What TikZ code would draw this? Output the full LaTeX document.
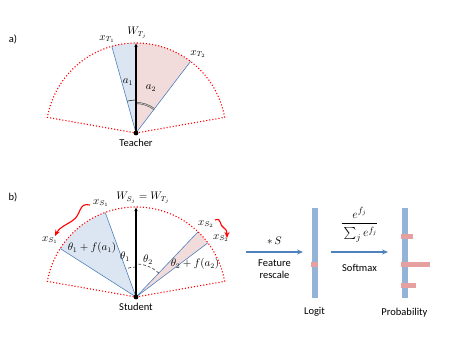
\documentclass[tikz,border=0pt]{standalone}
\usepackage{amsmath}
\usepackage{fontspec}
\setmainfont{Carlito}
\usetikzlibrary{arrows.meta,positioning}
\definecolor{lineblue}{RGB}{79,129,189}
\definecolor{fillblue}{RGB}{220,230,242}
\definecolor{fillpink}{RGB}{242,220,219}
\definecolor{barblue}{RGB}{149,179,215}
\definecolor{barred}{RGB}{230,160,160}

\begin{document}
\begin{tikzpicture}[
    x=1pt,
    y=1pt,
    >=Latex,
    sector/.style={red,dotted,line width=1.1pt},
    ray/.style={lineblue,line width=0.6pt},
    axis/.style={-{Latex[length=4pt,width=3.5pt]},line width=1.1pt},
    apex/.style={circle,fill=black,inner sep=1.7pt},
    anglemark/.style={gray!60!black,densely dashed,line width=0.7pt},
    bar/.style={fill=barblue,minimum width=6pt,minimum height=90pt,inner sep=0pt},
    spike/.style={fill=barred},
    flow/.style={-{Stealth[length=6pt,width=5pt]},lineblue,line width=1.1pt},
    wiggle/.style={-{Stealth[length=6pt,width=5pt]},red,line width=1.1pt},
    every node/.style={font=\fontsize{10.5}{12}\selectfont,text=black}
]
  \useasboundingbox (0,0) rectangle (450,338);

  % a) teacher
  \coordinate (T) at (136,205);
  \path (T) +(90:90) coordinate (Wt) +(105.6:90) coordinate (xt1) +(52.7:90) coordinate (xt2);
  \fill[fillblue] (T) -- (xt1) arc[start angle=105.6,end angle=90,radius=90] -- cycle;
  \fill[fillpink] (T) -- (Wt) arc[start angle=90,end angle=52.7,radius=90] -- cycle;
  \draw[sector] (T) -- +(10:90) arc[start angle=10,end angle=170,radius=90] -- cycle;
  \draw[ray] (T) -- (xt1);
  \draw[ray] (T) -- (xt2);
  \draw[line width=0.5pt] (T) +(90:33) arc[start angle=90,end angle=105.6,radius=33];
  \draw[draw=gray!50!black,double=gray!45,double distance=0.8pt,line width=0.5pt]
    (T) +(52.7:30) arc[start angle=52.7,end angle=90,radius=30];
  \draw[axis] (T) -- (Wt);
  \node[apex] (Tdot) at (T) {};

  \node (alab) at (13,299) {a)};
  \node (Wtlab) at (137,305) {$W_{T_j}$};
  \node (xt1lab) at (107,299) {$x_{T_1}$};
  \node (xt2lab) at (198,284) {$x_{T_2}$};
  \node (a1lab) at (128,256) {$a_1$};
  \node (a2lab) at (151,250) {$a_2$};
  \node[below=3pt] (teacher) at (T) {Teacher};

  % b) student
  \coordinate (S) at (136,41);
  \path (S) +(90:90) coordinate (Ws)
    +(110:90) coordinate (xs1) +(147.4:90) coordinate (ys1)
    +(46.4:90) coordinate (xs2) +(37:90) coordinate (ys2);
  \fill[fillblue] (S) -- (ys1) arc[start angle=147.4,end angle=110,radius=90] -- cycle;
  \fill[fillpink] (S) -- (xs2) arc[start angle=46.4,end angle=37,radius=90] -- cycle;
  \draw[sector] (S) -- +(10:90) arc[start angle=10,end angle=170,radius=90] -- cycle;
  \foreach \p in {xs1,ys1,xs2,ys2}
    \draw[ray] (S) -- (\p);
  \draw[anglemark] (S) +(90:30) arc[start angle=90,end angle=110,radius=30];
  \draw[anglemark] (S) +(46.4:33) arc[start angle=46.4,end angle=90,radius=33];
  \draw[axis] (S) -- (Ws);
  \node[apex] (Sdot) at (S) {};

  \node (blab) at (13,141) {b)};
  \node (Wslab) at (143,140) {$W_{S_j}=W_{T_j}$};
  \node (xs1lab) at (101,135) {$x_{S_1}$};
  \node (ys1lab) at (50,98) {$x_{S_1}$};
  \node (xs2lab) at (206,114) {$x_{S_2}$};
  \node (ys2lab) at (221,100) {$x_{S_2}$};
  \node (th1f) at (92,90) {$\theta_1+f(a_1)$};
  \node (th1) at (125,81) {$\theta_1$};
  \node (th2) at (148,78) {$\theta_2$};
  \node (th2f) at (195,74) {$\theta_2+f(a_2)$};
  \node[below=3pt] (student) at (S) {Student};

  \coordinate (w1s) at (90,133);
  \coordinate (w1e) at (55,102);
  \draw[wiggle] (w1s) .. controls (78,136) and (82,123) .. (72,117)
    .. controls (64,112) and (59,110) .. (w1e);
  \coordinate (w2s) at (215,118);
  \coordinate (w2e) at (227,100);
  \draw[wiggle] (w2s) .. controls (222,121) and (219,112) .. (224,110)
    .. controls (227,108) and (227,105) .. (w2e);

  % logit and probability
  \node[bar] (logit) at (314.5,85) {};
  \fill[spike] (logit.west |- 0,71) rectangle (logit.east |- 0,76);
  \node[bar] (prob) at (404.5,85) {};
  \fill[spike] (prob.west |- 0,99) rectangle (413,104);
  \fill[spike] (prob.west |- 0,71) rectangle (430,76);
  \fill[spike] (prob.west |- 0,50) rectangle (416,55);
  \node[below=6pt] (logitlab) at (logit.south) {Logit};
  \node[below=6pt] (problab) at (prob.south) {Probability};

  \coordinate (f1s) at (246,86);
  \coordinate (f1e) at (303,86);
  \coordinate (f2s) at (331,86);
  \coordinate (f2e) at (388,86);
  \draw[flow] (f1s) -- node[above=4pt] (scale) {$*\,S$}
    node[below=4pt,align=center] (rescale) {Feature\\rescale} (f1e);
  \draw[flow] (f2s) -- node[above=6pt,font=\fontsize{12.5}{14}\selectfont] (frac)
      {$\dfrac{e^{f_j}\rule[-3pt]{0pt}{0pt}}{\rule{0pt}{12pt}\sum_j e^{f_j}}$}
    node[below=8pt] (softmax) {Softmax} (f2e);
\end{tikzpicture}
\end{document}
